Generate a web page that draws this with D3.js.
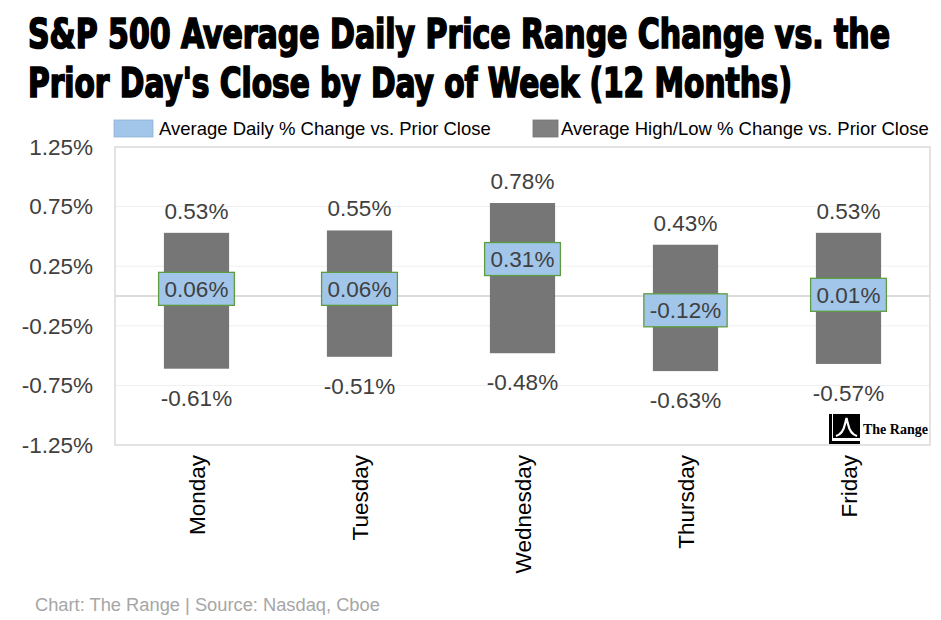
<!DOCTYPE html>
<html>
<head>
<meta charset="utf-8">
<script src="https://cdn.jsdelivr.net/npm/d3@7"></script>
<style>
  body { margin: 0; background: #fff; }
  svg { display: block; }
  text { font-family: "Liberation Sans", Arial, sans-serif; }
</style>
</head>
<body>
<svg id="chart" width="941" height="620"></svg>
<script>
const days = ["Monday", "Tuesday", "Wednesday", "Thursday", "Friday"];
const avgChange = [0.06, 0.06, 0.31, -0.12, 0.01];
const highChange = [0.53, 0.55, 0.78, 0.43, 0.53];
const lowChange = [-0.61, -0.51, -0.48, -0.63, -0.57];
const yTicks = [-1.25, -0.75, -0.25, 0.25, 0.75, 1.25];
const titleLines = [
  "S&P 500 Average Daily Price Range Change vs. the",
  "Prior Day's Close by Day of Week (12 Months)"
];
const legendLabels = ["Average Daily % Change vs. Prior Close", "Average High/Low % Change vs. Prior Close"];

const data = days.map((d, i) => ({ day: d, avg: avgChange[i], high: highChange[i], low: lowChange[i] }));

const svg = d3.select("#chart");
const plot = { left: 115, right: 930, top: 147, bottom: 445 };
const textColor = "#404040";
const fmt = v => v.toFixed(2) + "%";

// title: condensed bold, stretched vertically to look like the heavy poster face
const titleScaleY = 1.3;
svg.append("g")
  .attr("transform", `scale(1,${titleScaleY})`)
  .append("text")
  .attr("class", "title")
  .style("font-family", "'Liberation Sans Narrow', 'DejaVu Sans Condensed', 'Liberation Sans', sans-serif")
  .attr("font-size", 31)
  .attr("font-weight", "bold")
  .attr("fill", "#000")
  .attr("stroke", "#000")
  .attr("stroke-width", 1.3)
  .selectAll("tspan")
  .data(titleLines)
  .join("tspan")
  .attr("x", 28)
  .attr("y", (d, i) => (48 + i * 49) / titleScaleY)
  .attr("textLength", (d, i) => i === 0 ? 862 : 764)
  .attr("lengthAdjust", "spacingAndGlyphs")
  .text(d => d);

// scales
const x = d3.scaleBand()
  .domain(days)
  .range([plot.left, plot.right])
  .paddingInner(0.6)
  .paddingOuter(0.3);

const y = d3.scaleLinear()
  .domain([-1.25, 1.25])
  .range([plot.bottom, plot.top]);

// gridlines
svg.append("g")
  .selectAll("line")
  .data(yTicks.slice(1, -1))
  .join("line")
  .attr("x1", plot.left).attr("x2", plot.right)
  .attr("y1", d => y(d)).attr("y2", d => y(d))
  .attr("stroke", "#efefef")
  .attr("stroke-width", 1);

// plot border
svg.append("rect")
  .attr("x", plot.left).attr("y", plot.top)
  .attr("width", plot.right - plot.left)
  .attr("height", plot.bottom - plot.top)
  .attr("fill", "none")
  .attr("stroke", "#d4d4d4")
  .attr("stroke-width", 1.3);

// zero line
svg.append("line")
  .attr("x1", plot.left).attr("x2", plot.right)
  .attr("y1", y(0)).attr("y2", y(0))
  .attr("stroke", "#d0d0d0")
  .attr("stroke-width", 1.3);

// y axis
const yAxis = d3.axisLeft(y).tickValues(yTicks).tickSize(0).tickPadding(0).tickFormat(fmt);
const yg = svg.append("g")
  .attr("transform", `translate(${plot.left - 22},0)`)
  .call(yAxis);
yg.select(".domain").remove();
yg.selectAll("text")
  .attr("font-size", 22.5)
  .attr("font-family", "'Liberation Sans', Arial, sans-serif")
  .attr("fill", textColor);

// x axis labels (rotated)
svg.append("g")
  .selectAll("text")
  .data(days)
  .join("text")
  .attr("transform", d => `translate(${x(d) + x.bandwidth() / 2},455) rotate(-90)`)
  .attr("dy", "0.36em")
  .attr("text-anchor", "end")
  .attr("font-size", 22.5)
  .attr("fill", "#000")
  .text(d => d);

// high/low bars
svg.append("g")
  .selectAll("rect")
  .data(data)
  .join("rect")
  .attr("x", d => x(d.day))
  .attr("y", d => y(d.high))
  .attr("width", x.bandwidth())
  .attr("height", d => y(d.low) - y(d.high))
  .attr("fill", "#767676");

// high labels
svg.append("g")
  .selectAll("text")
  .data(data)
  .join("text")
  .attr("x", d => x(d.day) + x.bandwidth() / 2)
  .attr("y", d => y(d.high) - 14)
  .attr("text-anchor", "middle")
  .attr("font-size", 22.5)
  .attr("fill", textColor)
  .text(d => fmt(d.high));

// low labels
svg.append("g")
  .selectAll("text")
  .data(data)
  .join("text")
  .attr("x", d => x(d.day) + x.bandwidth() / 2)
  .attr("y", d => y(d.low) + 37)
  .attr("text-anchor", "middle")
  .attr("font-size", 22.5)
  .attr("fill", textColor)
  .text(d => fmt(d.low));

// average daily change boxes
const avgG = svg.append("g")
  .selectAll("g")
  .data(data)
  .join("g")
  .attr("transform", d => `translate(${x(d.day) + x.bandwidth() / 2},${y(d.avg)})`);

avgG.append("rect").attr("class", "box");
avgG.append("text")
  .attr("text-anchor", "middle")
  .attr("dy", "0.36em")
  .attr("font-size", 22.5)
  .attr("fill", textColor)
  .text(d => fmt(d.avg));

avgG.each(function () {
  const g = d3.select(this);
  const w = g.select("text").node().getComputedTextLength() + 12;
  g.select("rect")
    .attr("x", -w / 2).attr("y", -16.5)
    .attr("width", w).attr("height", 33)
    .attr("fill", "#a1c6ea")
    .attr("stroke", "#5e9d3f")
    .attr("stroke-width", 1.3);
});

// legend
const legendItems = [
  { label: legendLabels[0], color: "#a1c6ea", sx: 114, sw: 39, tx: 159 },
  { label: legendLabels[1], color: "#808080", sx: 533, sw: 25, tx: 561 }
];
const lg = svg.append("g")
  .selectAll("g")
  .data(legendItems)
  .join("g");
lg.append("rect")
  .attr("x", d => d.sx).attr("y", 120)
  .attr("width", d => d.sw).attr("height", 17)
  .attr("fill", d => d.color)
  .attr("stroke", d => d3.color(d.color).darker(0.3))
  .attr("stroke-width", 0.8);
lg.append("text")
  .attr("x", d => d.tx).attr("y", 135)
  .attr("font-size", 18.5)
  .attr("fill", "#000")
  .text(d => d.label);

// logo
const logo = svg.append("g");
logo.append("rect").attr("x", 829).attr("y", 414).attr("width", 3).attr("height", 30).attr("fill", "#000");
logo.append("rect").attr("x", 829).attr("y", 441).attr("width", 31).attr("height", 3).attr("fill", "#000");
logo.append("rect").attr("x", 833).attr("y", 414).attr("width", 27).attr("height", 24).attr("fill", "#000");
logo.append("path")
  .attr("d", "M836,436 Q843,434 845,424 L846.5,418 L848,424 Q850,434 857,436")
  .attr("fill", "none").attr("stroke", "#fff").attr("stroke-width", 2.2);
logo.append("text")
  .attr("x", 863).attr("y", 434)
  .style("font-family", "'Liberation Serif', 'Times New Roman', serif")
  .attr("font-weight", "bold")
  .attr("font-size", 14)
  .attr("fill", "#000")
  .text("The Range");

// footer
svg.append("text")
  .attr("x", 35).attr("y", 611)
  .attr("font-size", 18.3)
  .attr("fill", "#a6a6a6")
  .text("Chart: The Range | Source: Nasdaq, Cboe");
</script>
</body>
</html>
